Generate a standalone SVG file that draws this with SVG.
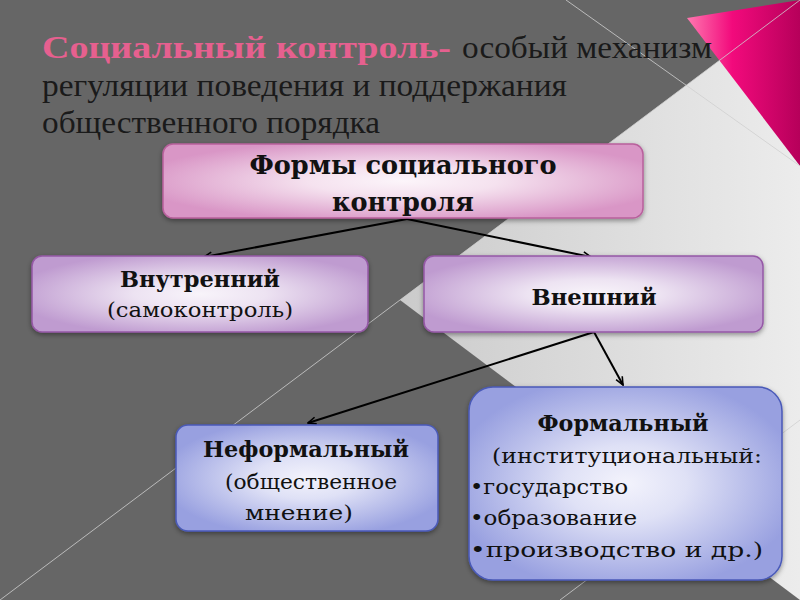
<svg xmlns="http://www.w3.org/2000/svg" width="800" height="600" viewBox="0 0 800 600">
<defs>
<linearGradient id="lightG" gradientUnits="userSpaceOnUse" x1="400" y1="0" x2="800" y2="0">
<stop offset="0" stop-color="#cbcbcb"/><stop offset="1" stop-color="#ececec"/>
</linearGradient>
<linearGradient id="pinkTri" gradientUnits="userSpaceOnUse" x1="687" y1="0" x2="800" y2="0">
<stop offset="0" stop-color="#ff78b0"/><stop offset="0.4" stop-color="#f20a7c"/><stop offset="1" stop-color="#b6005a"/>
</linearGradient>
<radialGradient id="gPink" cx="0.5" cy="0.5" r="0.56">
<stop offset="0" stop-color="#fcf5fa"/><stop offset="0.35" stop-color="#f5e2ef"/><stop offset="1" stop-color="#d996c6"/>
</radialGradient>
<radialGradient id="gPurple" cx="0.5" cy="0.5" r="0.56">
<stop offset="0" stop-color="#f8f4fa"/><stop offset="0.35" stop-color="#ede3f2"/><stop offset="1" stop-color="#bf9bd0"/>
</radialGradient>
<radialGradient id="gBlue" cx="0.5" cy="0.5" r="0.56">
<stop offset="0" stop-color="#f3f3fc"/><stop offset="0.35" stop-color="#dfe1f6"/><stop offset="1" stop-color="#98a0e0"/>
</radialGradient>
<filter id="shadow" x="-10%" y="-10%" width="120%" height="130%">
<feDropShadow dx="0" dy="2" stdDeviation="2.5" flood-color="#000" flood-opacity="0.4"/>
</filter>
<marker id="arrow" markerWidth="10" markerHeight="10" refX="9" refY="5" orient="auto" markerUnits="userSpaceOnUse">
<path d="M1,1.5 L9,5 L1,8.5" fill="none" stroke="#000" stroke-width="1.6"/>
</marker>
<style>
.title{font-family:"Liberation Serif","Times New Roman",serif;font-size:31px;fill:#1a1a1a}
.tb{font-weight:bold;fill:#e6608f}
.bx{font-family:"DejaVu Serif","Liberation Serif",serif;font-size:21px;fill:#111;text-anchor:middle}
.b{font-weight:bold;font-size:22px}
.lft{text-anchor:start}
.big{font-size:26px}
.pink{fill:url(#gPink);stroke:#b8609c;stroke-width:1.5}
.purple{fill:url(#gPurple);stroke:#9558a6;stroke-width:1.5}
.blue{fill:url(#gBlue);stroke:#4a5ab8;stroke-width:1.5}
.thin{stroke:#d0d0d0;stroke-width:1;opacity:0.8}
.conn{fill:none;stroke:#000;stroke-width:2}
</style>
</defs>
<g id="background">
<rect width="800" height="600" fill="#666666"/>
<polygon points="800,0 400,300 800,600" fill="url(#lightG)"/>
<polygon points="687,18 800,0 800,166" fill="url(#pinkTri)"/>
<line class="thin" x1="0" y1="600" x2="800" y2="0"/>
<line class="thin" x1="566" y1="0" x2="800" y2="166"/>
<line class="thin" x1="560" y1="600" x2="800" y2="420"/>
</g>
<g id="title">
<text class="title" x="42" y="58"><tspan class="tb" textLength="409" lengthAdjust="spacingAndGlyphs">Социальный контроль-</tspan><tspan x="462" textLength="250" lengthAdjust="spacingAndGlyphs">особый механизм</tspan></text>
<text class="title" x="42" y="96" textLength="525" lengthAdjust="spacingAndGlyphs">регуляции поведения и поддержания</text>
<text class="title" x="42" y="133" textLength="338" lengthAdjust="spacingAndGlyphs">общественного порядка</text>
</g>
<g id="connectors">
<path class="conn" d="M407,210 L407,219"/>
<path class="conn" d="M407,219 L204,257" marker-end="url(#arrow)"/>
<path class="conn" d="M407,219 L591,257" marker-end="url(#arrow)"/>
<path class="conn" d="M594,332 L308,423" marker-end="url(#arrow)"/>
<path class="conn" d="M594,332 L623,385" marker-end="url(#arrow)"/>
</g>
<g id="node-forms">
<rect class="pink" x="163" y="144" width="480" height="74" rx="10" filter="url(#shadow)"/>
<text class="bx b big" x="403" y="174" textLength="307" lengthAdjust="spacingAndGlyphs">Формы социального</text>
<text class="bx b big" x="403" y="211" textLength="142" lengthAdjust="spacingAndGlyphs">контроля</text>
</g>
<g id="node-internal">
<rect class="purple" x="32" y="256" width="336" height="76" rx="10" filter="url(#shadow)"/>
<text class="bx b" x="200" y="287" textLength="160" lengthAdjust="spacingAndGlyphs">Внутренний</text>
<text class="bx" x="200" y="317" textLength="186" lengthAdjust="spacingAndGlyphs">(самоконтроль)</text>
</g>
<g id="node-external">
<rect class="purple" x="424" y="256" width="339" height="76" rx="10" filter="url(#shadow)"/>
<text class="bx b" x="594" y="305" textLength="125" lengthAdjust="spacingAndGlyphs">Внешний</text>
</g>
<g id="node-informal">
<rect class="blue" x="176" y="425" width="262" height="106" rx="12" filter="url(#shadow)"/>
<text class="bx b" x="306" y="457" textLength="206" lengthAdjust="spacingAndGlyphs">Неформальный</text>
<text class="bx" x="311" y="489" textLength="172" lengthAdjust="spacingAndGlyphs">(общественное</text>
<text class="bx" x="299" y="520" textLength="108" lengthAdjust="spacingAndGlyphs">мнение)</text>
</g>
<g id="node-formal">
<rect class="blue" x="469" y="387" width="313" height="193" rx="24" filter="url(#shadow)"/>
<text class="bx b" x="623" y="431" textLength="171" lengthAdjust="spacingAndGlyphs">Формальный</text>
<text class="bx" x="627" y="463" textLength="270" lengthAdjust="spacingAndGlyphs">(институциональный:</text>
<text class="bx lft" x="470" y="494" textLength="158" lengthAdjust="spacingAndGlyphs">•государство</text>
<text class="bx lft" x="470" y="525" textLength="167" lengthAdjust="spacingAndGlyphs">•образование</text>
<text class="bx lft" x="470" y="557" textLength="293" lengthAdjust="spacingAndGlyphs">•производство и др.)</text>
</g>
</svg>
